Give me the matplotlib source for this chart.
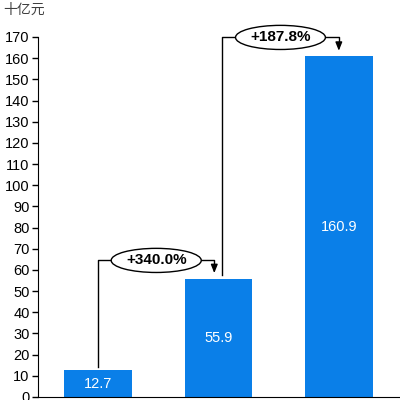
import matplotlib
matplotlib.use("Agg")
import matplotlib.pyplot as plt

plt.rcParams['font.family'] = ['Liberation Sans', 'Noto Sans CJK SC', 'DejaVu Sans']

categories = ["A", "B", "C"]
values = [12.7, 55.9, 160.9]
growth_labels = ["+340.0%", "+187.8%"]
bracket_levels = [64.5, 169.8]
yticks = list(range(0, 171, 10))
unit_label = "十亿元"
bar_color = "#0a7fe8"

fig = plt.figure(figsize=(4, 4), dpi=100)
ax = fig.add_axes([0.095, 0.0075, 0.9025, 0.9])
x = list(range(len(categories)))
ax.bar(x, values, width=0.56, color=bar_color, zorder=2)
for xi, v in zip(x, values):
    ax.text(xi, v / 2, f"{v:.1f}", color="white", ha="center", va="center", fontsize=10.5)

ax.set_xlim(-0.5, 2.5)
ax.set_ylim(0, 170)
ax.set_yticks(yticks)
ax.tick_params(axis='y', labelsize=10.5, length=4, width=1, direction='out', pad=2)
ax.set_xticks([])
for s in ["top", "right"]:
    ax.spines[s].set_visible(False)

# brackets
starts = [(0.0, values[0] + 1.6), (1.03, values[1] + 1.6)]
ends = [(0.965, values[1] + 2.6), (2.0, values[2] + 2.6)]
for (sx, sy), (ex, ey), lvl, lab in zip(starts, ends, bracket_levels, growth_labels):
    ax.plot([sx, sx, ex, ex], [sy, lvl, lvl, ey + 3], color="black", lw=1, zorder=3, clip_on=False)
    ax.annotate("", xy=(ex, ey), xytext=(ex, ey + 3.5),
                arrowprops=dict(arrowstyle="-|>,head_length=0.5,head_width=0.2", color="black", lw=1,
                                shrinkA=0, shrinkB=0), annotation_clip=False)
    ax.text((sx + ex) / 2, lvl, lab, ha="center", va="center", fontsize=11, fontweight="bold",
            bbox=dict(boxstyle="ellipse,pad=0.1", fc="white", ec="black", lw=1), zorder=4)

fig.text(0.008, 0.975, unit_label, fontsize=10, color="#404040", ha="left", va="center")
fig.savefig("out.png", dpi=100)
